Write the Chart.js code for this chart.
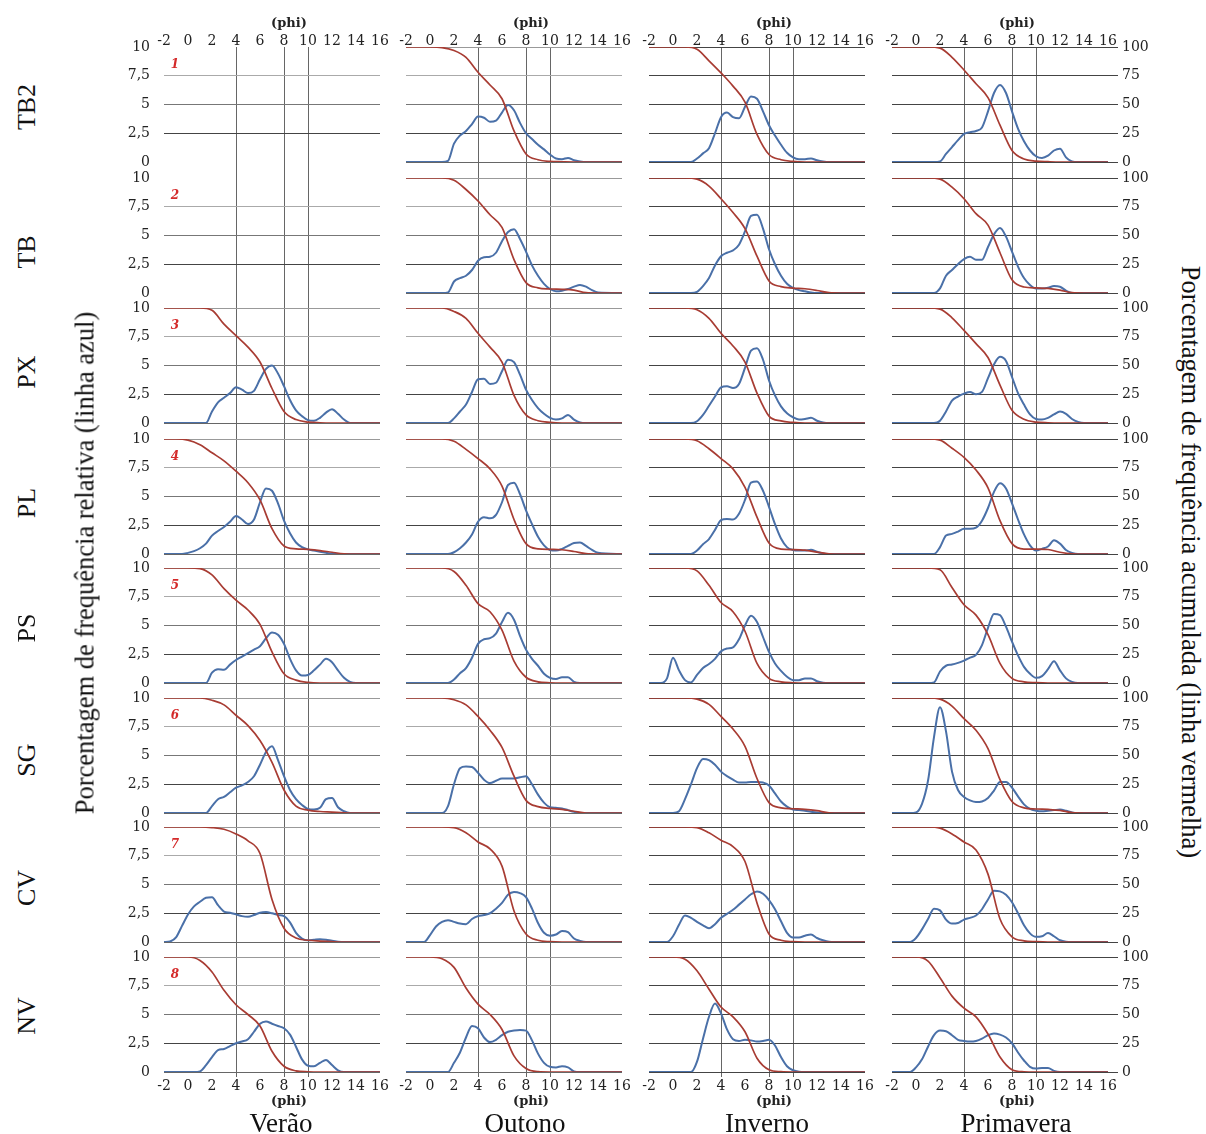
<!DOCTYPE html>
<html>
<head>
<meta charset="utf-8">
<script src="https://cdn.jsdelivr.net/npm/chart.js@4.4.0/dist/chart.umd.min.js"></script>
<style>
body { margin: 0; background: #fff; }
#wrap { position: relative; width: 1206px; height: 1134px; overflow: hidden; font-family: "Liberation Serif", serif; }
canvas { position: absolute; }
.lbl { position: absolute; white-space: nowrap; color: #111; }
</style>
</head>
<body>
<div id="wrap"></div>
<script>
// eixo x (phi) das curvas azuis e vermelhas
const phi = [-2,-1.5,-1,-0.5,0,0.5,1,1.5,2,2.5,3,3.5,4,4.5,5,5.5,6,6.5,7,7.5,8,8.5,9,9.5,10,10.5,11,11.5,12,12.5,13,13.5,14,16];
const phiAcum = [-2,-1,0,1,2,3,4,5,6,7,8,9,10,11,12,13,14,16];

const pontos = ['TB2','TB','PX','PL','PS','SG','CV','NV'];
const estacoes = ['Verão','Outono','Inverno','Primavera'];

// frequencia relativa (%), linha azul
const veraoAzul = [
  null,
  null,
  [0,0,0,0,0,0,0,0,1.0,1.8,2.2,2.6,3.1,2.9,2.6,2.8,3.8,4.7,5.0,4.3,3.2,2.0,1.1,0.6,0.25,0.2,0.45,0.9,1.2,0.8,0.3,0,0,0],
  [0,0,0,0,0.1,0.25,0.5,0.9,1.6,2.0,2.35,2.8,3.3,3.0,2.6,3.0,4.5,5.7,5.5,4.4,2.9,1.8,1.0,0.6,0.4,0.3,0.2,0.1,0,0,0,0,0,0],
  [0,0,0,0,0,0,0,0,0.9,1.2,1.15,1.6,2.0,2.3,2.6,2.9,3.2,3.9,4.4,4.2,3.4,2.1,1.1,0.65,0.7,1.1,1.6,2.1,1.8,1.1,0.45,0.1,0,0],
  [0,0,0,0,0,0,0,0,0.6,1.2,1.4,1.8,2.2,2.4,2.7,3.2,4.2,5.3,5.8,4.6,3.2,2.0,1.2,0.7,0.35,0.3,0.45,1.2,1.3,0.5,0.15,0,0,0],
  [0,0.05,0.4,1.4,2.4,3.1,3.5,3.85,3.9,3.2,2.65,2.55,2.4,2.25,2.2,2.35,2.55,2.6,2.5,2.35,2.25,1.7,0.8,0.3,0.15,0.2,0.25,0.2,0.1,0.03,0,0,0,0],
  [0,0,0,0,0,0,0.05,0.6,1.3,1.9,2.0,2.25,2.5,2.65,2.85,3.5,4.2,4.4,4.2,4.0,3.8,3.25,2.2,1.1,0.55,0.5,0.8,1.05,0.6,0.15,0,0,0,0]
];
const outonoAzul = [
  [0,0,0,0,0,0,0,0.1,1.6,2.3,2.7,3.3,3.95,3.85,3.5,3.6,4.3,4.95,4.5,3.4,2.5,2.0,1.5,1.1,0.65,0.3,0.25,0.35,0.15,0.05,0,0,0,0],
  [0,0,0,0,0,0,0,0.05,1.0,1.3,1.5,2.0,2.8,3.1,3.15,3.5,4.5,5.3,5.55,4.7,3.6,2.4,1.5,0.8,0.35,0.15,0.2,0.35,0.55,0.7,0.55,0.25,0.05,0],
  [0,0,0,0,0,0,0,0,0.4,1.0,1.6,2.7,3.8,3.85,3.4,3.5,4.5,5.5,5.3,4.2,2.9,2.0,1.3,0.8,0.45,0.3,0.4,0.7,0.3,0.05,0,0,0,0],
  [0,0,0,0,0,0,0,0,0.15,0.5,1.0,1.7,2.8,3.2,3.1,3.4,4.5,6.0,6.2,5.2,3.8,2.6,1.5,0.75,0.35,0.3,0.45,0.7,0.95,1.0,0.7,0.35,0.1,0],
  [0,0,0,0,0,0,0,0,0.3,0.85,1.3,2.2,3.4,3.8,3.9,4.3,5.3,6.1,5.5,4.1,2.9,2.1,1.5,0.8,0.45,0.35,0.5,0.5,0.1,0,0,0,0,0],
  [0,0,0,0,0,0,0,0.6,2.5,3.9,4.05,4.0,3.5,2.9,2.6,2.8,3.0,3.0,3.0,3.1,3.2,2.5,1.6,0.9,0.5,0.45,0.4,0.25,0.1,0,0,0,0,0],
  [0,0,0,0,0.6,1.35,1.75,1.9,1.75,1.6,1.55,2.0,2.25,2.35,2.5,2.9,3.4,4.1,4.35,4.25,3.9,2.9,1.65,0.8,0.55,0.65,0.95,0.85,0.3,0.1,0,0,0,0],
  [0,0,0,0,0,0,0,0,0.8,1.7,3.0,4.0,3.8,3.0,2.6,2.8,3.2,3.5,3.6,3.65,3.6,2.75,1.6,0.8,0.45,0.4,0.5,0.4,0.05,0,0,0,0,0]
];
const invernoAzul = [
  [0,0,0,0,0,0,0,0,0.3,0.75,1.2,2.5,3.9,4.3,3.9,3.8,4.8,5.7,5.5,4.4,3.2,2.3,1.5,0.8,0.4,0.25,0.25,0.3,0.15,0.05,0,0,0,0],
  [0,0,0,0,0,0,0,0,0.1,0.6,1.3,2.4,3.2,3.5,3.7,4.2,5.35,6.7,6.8,5.6,3.8,2.5,1.5,0.8,0.45,0.25,0.15,0.05,0,0,0,0,0,0],
  [0,0,0,0,0,0,0,0,0.15,0.7,1.5,2.3,3.1,3.2,3.05,3.4,4.8,6.3,6.5,5.5,3.7,2.4,1.45,0.85,0.5,0.3,0.35,0.45,0.2,0.05,0,0,0,0],
  [0,0,0,0,0,0,0,0,0.3,0.85,1.3,2.1,2.95,3.05,3.0,3.5,4.7,6.2,6.3,5.5,4.1,2.6,1.35,0.6,0.35,0.3,0.3,0.37,0.2,0.05,0,0,0,0],
  [0,0,0,0.4,2.2,1.1,0.25,0.05,0.7,1.3,1.65,2.1,2.75,3.0,3.1,3.8,5.0,5.85,5.3,4.0,2.7,1.7,1.05,0.55,0.25,0.25,0.4,0.4,0.15,0.03,0,0,0,0],
  [0,0,0,0,0,0.15,1.2,2.5,3.9,4.7,4.6,4.2,3.6,3.2,2.9,2.65,2.65,2.7,2.7,2.65,2.4,1.7,1.0,0.55,0.3,0.25,0.2,0.1,0.05,0,0,0,0,0],
  [0,0,0,0,0.5,1.5,2.3,2.1,1.75,1.45,1.2,1.55,2.1,2.45,2.8,3.25,3.7,4.15,4.4,4.2,3.65,2.85,1.8,0.8,0.4,0.4,0.55,0.65,0.35,0.15,0.02,0,0,0],
  [0,0,0,0,0,0,0,0,0.9,2.9,4.8,5.95,5.1,3.7,2.85,2.7,2.8,2.75,2.65,2.7,2.8,2.3,1.3,0.5,0.15,0.02,0,0,0,0,0,0,0,0]
];
const primaveraAzul = [
  [0,0,0,0,0,0,0,0,0.05,0.7,1.3,1.9,2.45,2.6,2.7,3.0,4.4,6.0,6.7,6.0,4.4,2.9,1.8,1.0,0.5,0.35,0.55,1.0,1.15,0.4,0.05,0,0,0],
  [0,0,0,0,0,0,0,0,0.4,1.5,2.0,2.5,2.95,3.15,2.9,2.9,4.0,5.1,5.65,4.9,3.6,2.3,1.3,0.7,0.4,0.4,0.45,0.6,0.55,0.2,0,0,0,0],
  [0,0,0,0,0,0,0,0,0.2,1.0,1.95,2.3,2.55,2.7,2.5,2.7,3.9,5.1,5.75,5.4,4.0,2.6,1.6,0.75,0.35,0.3,0.45,0.75,1.0,0.8,0.35,0.1,0,0],
  [0,0,0,0,0,0,0,0,0.6,1.6,1.75,1.95,2.2,2.2,2.3,2.9,4.0,5.4,6.15,5.7,4.4,3.0,1.7,0.75,0.3,0.45,0.65,1.2,0.9,0.35,0.1,0,0,0],
  [0,0,0,0,0,0,0,0.05,1.0,1.5,1.6,1.75,1.95,2.2,2.45,3.3,4.8,6.0,5.9,4.9,3.6,2.4,1.4,0.8,0.45,0.6,1.2,1.9,1.1,0.4,0.1,0,0,0],
  [0,0,0,0,0.05,0.8,2.8,6.6,9.2,7.1,3.6,2.0,1.4,1.1,0.95,1.0,1.3,1.95,2.7,2.7,2.2,1.45,0.75,0.35,0.2,0.15,0.2,0.25,0.3,0.2,0.05,0,0,0],
  [0,0,0,0,0.35,1.1,2.0,2.9,2.75,1.95,1.6,1.65,1.95,2.1,2.3,2.85,3.7,4.45,4.4,4.1,3.45,2.5,1.45,0.75,0.45,0.5,0.78,0.5,0.15,0.02,0,0,0,0],
  [0,0,0,0,0.4,1.1,2.2,3.2,3.6,3.55,3.2,2.8,2.7,2.65,2.7,2.9,3.2,3.35,3.25,3.0,2.5,1.7,1.0,0.45,0.3,0.35,0.35,0.1,0,0,0,0,0,0]
];

// frequencia acumulada (%), linha vermelha
const veraoVermelho = [
  null,
  null,
  [100,100,100,100,98,86,76,66,53,30,10,3,0.8,0.2,0,0,0,0],
  [100,100,99,95,88,81,72,62,47,22,7,4.5,4,3,1.5,0.2,0,0],
  [100,100,100,99.5,94,82,72,63.5,51,27,8,2.5,0.5,0,0,0,0,0],
  [100,100,100,100,98,94,85,76,63,44,20,6,2.5,1.3,0.8,0.2,0,0],
  [100,100,100,100,99.5,98,94,88,77,37,12,3.5,1.5,0.8,0.3,0,0,0],
  [100,100,100,97,87,71,58.5,50,40,18,5,1,0.2,0,0,0,0,0]
];
const outonoVermelho = [
  [100,100,100,99.5,97,91,78,67,55,27,7,2,0.5,0.2,0,0,0,0],
  [100,100,100,100,98,90,80,68,57,29,9,4.5,3.5,3.2,2.5,0.3,0,0],
  [100,100,100,100,97,91,78,66,53,24,7,2,0.5,0,0,0,0,0],
  [100,100,100,100,98,91,83,74,59,30,9,4.5,4,3.7,2.2,0.3,0,0],
  [100,100,100,100,97,85,69,62,46,19,5,1,0.2,0,0,0,0,0],
  [100,100,100,100,98.5,94,84,72,57,32,11,5.5,4,3.2,1.5,0,0,0],
  [100,100,100,100,99.5,95,87,81,66,27,7,1.5,0.3,0,0,0,0,0],
  [100,100,100,98.5,91,73,59,50,37,14,3,0.3,0,0,0,0,0,0]
];
const invernoVermelho = [
  [100,100,100,100,98,88,77.5,66,52,24,6.5,2,0.5,0,0,0,0,0],
  [100,100,100,100,99,93,82,70,56,32,10.5,5.5,4.3,3.7,2.2,0.3,0,0],
  [100,100,100,100,98.5,91,78,67,53,26,6,1.8,0.5,0,0,0,0,0],
  [100,100,100,100,98.5,91.5,83,74,58,32,9.5,4.3,3.8,3.3,1.7,0.2,0,0],
  [100,100,100,100,97.5,85,70,62,45,17,4,1,0.2,0,0,0,0,0],
  [100,100,100,100,99,94.5,84,73,58,30,9,4.5,3.7,3.2,2,0.2,0,0],
  [100,100,100,100,99.5,95,88.5,83,70,34,7,1.5,0.3,0,0,0,0,0],
  [100,100,100,98,88,72,56.5,48,35,12,2,0.3,0,0,0,0,0,0]
];
const primaveraVermelho = [
  [100,100,100,100,99,91,80,68,56,32,10,2.6,0.8,0.3,0,0,0,0],
  [100,100,100,100,99,92,82,69,59,35,11.5,5.2,4.4,4,2.5,0.3,0,0],
  [100,100,100,100,99,91.5,80.5,69,57,33,11,3.2,0.8,0.2,0,0,0,0],
  [100,100,100,100,99,92,84,73,57.5,29,9,4.3,4.3,3.9,1.5,0.2,0,0],
  [100,100,100,100,98.5,83,68,59,42,17,4,1,0.3,0,0,0,0,0],
  [100,100,100,100,99,93,82,72,56,29,10,4.5,3.5,3.1,2.3,0.3,0,0],
  [100,100,100,100,99,94,87,80,59,20,4.5,1,0.3,0,0,0,0,0],
  [100,100,100,96.5,82,66,55.5,48,33,13,2,0.2,0,0,0,0,0,0]
];

const azul = [veraoAzul, outonoAzul, invernoAzul, primaveraAzul];
const vermelho = [veraoVermelho, outonoVermelho, invernoVermelho, primaveraVermelho];

// layout dos paineis
const colX = [164, 406, 649, 892];
const linhaY = [47, 178, 308, 439, 568, 698, 827, 957];
const LARG = 216, ALT = 115;

const wrap = document.getElementById('wrap');
const fonteTick = { family: 'DejaVu Serif', size: 14 };
const corH = { 0: '#666', 2.5: '#444', 5: '#777', 7.5: '#aaa', 10: '#999' };
const nada = 'rgba(0,0,0,0)';

function texto(t, x, y, css, rot) {
  const d = document.createElement('div');
  d.className = 'lbl';
  d.textContent = t;
  d.style.cssText = css;
  d.style.left = x + 'px';
  d.style.top = y + 'px';
  d.style.transform = 'translate(-50%,-50%)' + (rot ? ' rotate(' + rot + 'deg)' : '');
  wrap.appendChild(d);
}

for (let r = 0; r < 8; r++) {
  for (let c = 0; c < 4; c++) {
    const LW = c === 0 ? 50 : 0, RW = c === 3 ? 50 : 0;
    const TH = r === 0 ? 40 : 0, BH = r === 7 ? 40 : 16;
    const PAD = 14, PT = 10;
    const cv = document.createElement('canvas');
    cv.width = PAD + LW + LARG + RW + PAD;
    cv.height = PT + TH + ALT + BH;
    cv.style.left = (colX[c] - LW - PAD) + 'px';
    cv.style.top = (linhaY[r] - TH - PT) + 'px';
    wrap.appendChild(cv);

    const az = azul[c][r], vm = vermelho[c][r];
    const vazio = !az;
    const datasets = [];
    if (!vazio) {
      datasets.push({
        data: phi.map((x, i) => ({ x: x, y: az[i] })),
        yAxisID: 'y', borderColor: '#4a70a8', borderWidth: 2,
        pointRadius: 0, cubicInterpolationMode: 'monotone', order: 1
      });
      datasets.push({
        data: phiAcum.map((x, i) => ({ x: x, y: vm[i] })),
        yAxisID: 'y2', borderColor: '#a83c33', borderWidth: 1.7,
        pointRadius: 0, cubicInterpolationMode: 'monotone', order: 0
      });
    }

    const scales = {
      x: {
        type: 'linear', min: -2, max: 16, position: 'bottom',
        afterFit: a => { a.height = BH; a.paddingLeft = 0; a.paddingRight = 0; },
        ticks: { display: r === 7, stepSize: 2, autoSkip: false, maxRotation: 0, padding: 1, font: fonteTick, color: '#222' },
        grid: {
          color: ctx => ctx.tick && [4, 8, 10].includes(ctx.tick.value) ? '#666' : nada,
          tickLength: r === 7 ? 5 : 16, lineWidth: 1
        },
        border: { display: false }
      },
      y: {
        min: 0, max: 10, position: 'left',
        afterFit: a => { a.width = LW; a.paddingTop = 0; a.paddingBottom = 0; },
        ticks: {
          display: c === 0, stepSize: 2.5, padding: 14, font: fonteTick, color: '#222',
          callback: v => String(v).replace('.', ',')
        },
        grid: {
          drawTicks: false,
          color: ctx => {
            if (!ctx.tick) return nada;
            const v = ctx.tick.value;
            if (vazio && (v === 0 || v === 10)) return nada;
            return c < 2 ? corH[v] : '#444';
          }
        },
        border: { display: false }
      },
      y2: {
        min: 0, max: 100, position: 'right', display: c === 3,
        afterFit: a => { a.width = RW; a.paddingTop = 0; a.paddingBottom = 0; },
        ticks: { stepSize: 25, padding: 4, font: fonteTick, color: '#222' },
        grid: { drawOnChartArea: false, tickLength: 10, color: '#444' },
        border: { display: false }
      }
    };
    if (r === 0) {
      scales.xt = {
        type: 'linear', min: -2, max: 16, position: 'top',
        afterFit: a => { a.height = TH; a.paddingLeft = 0; a.paddingRight = 0; },
        ticks: { stepSize: 2, autoSkip: false, maxRotation: 0, padding: -3, font: fonteTick, color: '#222' },
        grid: { display: false, drawTicks: false },
        border: { display: false }
      };
    }

    new Chart(cv, {
      type: 'line',
      data: { datasets: datasets },
      options: {
        responsive: false,
        animation: false,
        devicePixelRatio: 1,
        layout: { padding: { left: PAD, right: PAD, top: PT, bottom: 0 } },
        plugins: { legend: { display: false }, tooltip: { enabled: false } },
        scales: scales
      }
    });
  }
  // numero do ponto
  texto(String(r + 1), 175, linhaY[r] + 17, 'font: italic bold 12px "DejaVu Serif"; color: #d42a2a;');
}

// titulos do eixo phi
for (let c = 0; c < 4; c++) {
  texto('(phi)', colX[c] + LARG / 2 + 17, 22, 'font: bold 13px "DejaVu Serif"; color: #222;');
  texto('(phi)', colX[c] + LARG / 2 + 17, 1100, 'font: bold 13px "DejaVu Serif"; color: #222;');
}

const estX = [281, 525, 767, 1016];
estacoes.forEach((e, c) => texto(e, estX[c], 1123, 'font: 27px "Liberation Serif";'));

const pontoY = [107, 252, 372, 503, 628, 760, 888, 1016];
pontos.forEach((p, r) => texto(p, 27, pontoY[r], 'font: 26px "Liberation Serif";', -90));

texto('Porcentagem de frequência relativa (linha azul)', 85, 563, 'font: 26.5px "Liberation Serif";', -90);
texto('Porcentagem de frequência acumulada (linha vermelha)', 1190, 562, 'font: 26.5px "Liberation Serif";', 90);
</script>
</body>
</html>
